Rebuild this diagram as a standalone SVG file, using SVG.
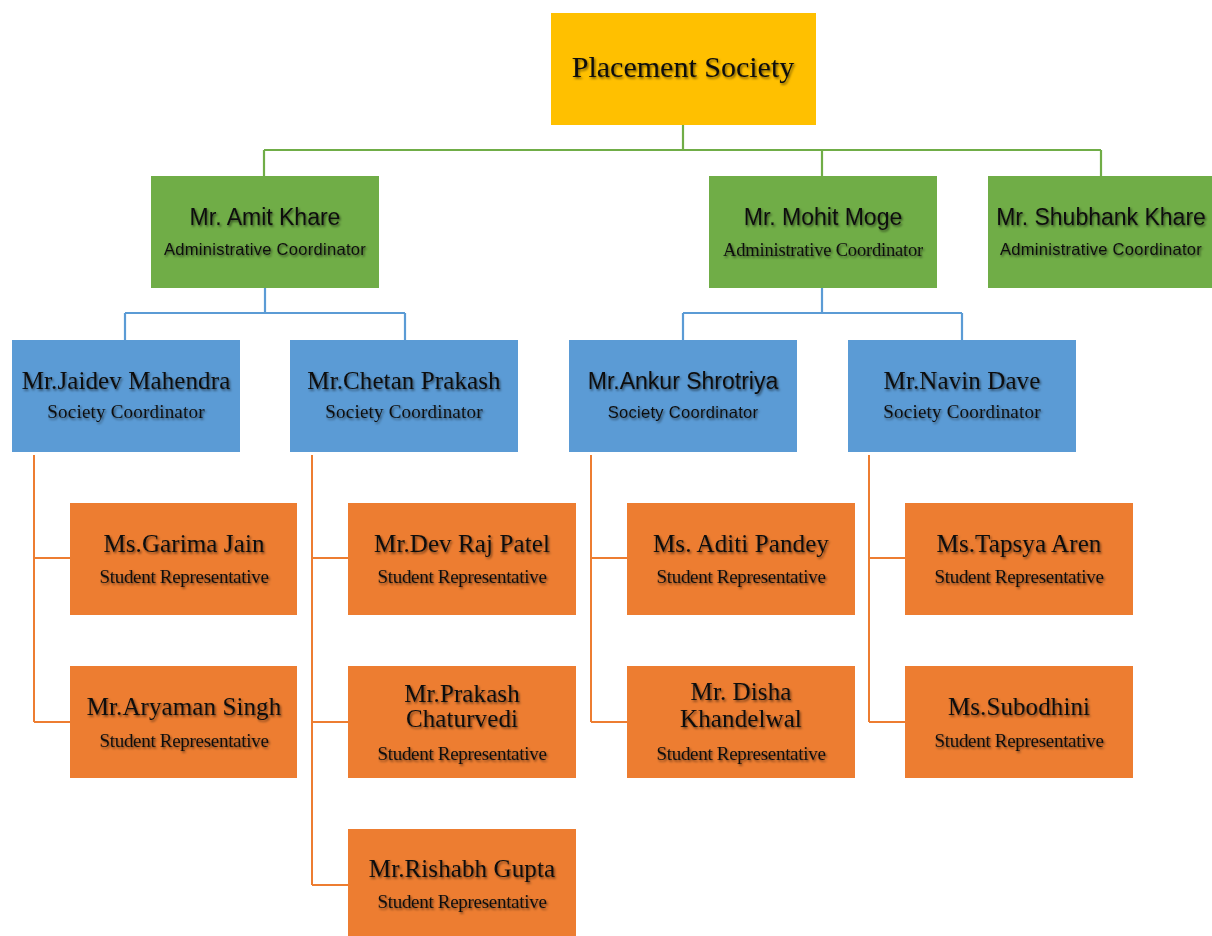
<svg xmlns="http://www.w3.org/2000/svg" width="1212" height="936" viewBox="0 0 1212 936">
<defs>
<filter id="ts" x="-10%" y="-30%" width="120%" height="160%">
<feDropShadow dx="1.3" dy="1.7" stdDeviation="0.9" flood-color="#000" flood-opacity="0.55"/>
</filter>
<style>
.bg{fill:#ffffff}
.top{fill:#FFC000}
.grn{fill:#70AD47}
.blu{fill:#5B9BD5}
.org{fill:#ED7D31}
text{fill:#111111;text-anchor:middle;filter:url(#ts)}
.serif{font-family:"Liberation Serif","Times New Roman",serif}
.sans{font-family:"Liberation Sans",Arial,sans-serif}
.title{font-size:30px}
.nm{font-size:25px;letter-spacing:0.1px}
.nms{font-size:23px}
.sr{font-size:19px;letter-spacing:-0.3px}
.sc{font-size:19px;letter-spacing:0.2px}
.ac{font-size:16.5px;letter-spacing:0.3px}
.acs{font-size:18.5px;letter-spacing:-0.2px}
.lg{stroke:#70AD47;stroke-width:2.2;fill:none}
.lb{stroke:#5B9BD5;stroke-width:2.2;fill:none}
.lo{stroke:#ED7D31;stroke-width:2;fill:none}
</style>
</defs>
<rect class="bg" x="0" y="0" width="1212" height="936"/>

<g id="connectors">
<path class="lg" d="M683 125 V150 M264 150 H1101 M264 150 V176 M822 150 V176 M1101 150 V176"/>
<path class="lb" d="M265 288 V313 M125 313 H405 M125 313 V340 M405 313 V340"/>
<path class="lb" d="M822 288 V313 M683 313 H962 M683 313 V340 M962 313 V340"/>
<path class="lo" d="M34 455 V722 M34 558 H70 M34 722 H70"/>
<path class="lo" d="M312 455 V885 M312 558 H348 M312 722 H348 M312 885 H348"/>
<path class="lo" d="M591 455 V722 M591 558 H627 M591 722 H627"/>
<path class="lo" d="M869 455 V722 M869 558 H905 M869 722 H905"/>
</g>

<g id="placement-society">
<rect class="top" x="551" y="13" width="265" height="112"/>
<text class="serif title" x="683" y="77">Placement Society</text>
</g>

<g id="amit-khare">
<rect class="grn" x="151" y="176" width="228" height="112"/>
<text class="sans nms" x="265" y="225">Mr. Amit Khare</text>
<text class="sans ac" x="265" y="255">Administrative Coordinator</text>
</g>
<g id="mohit-moge">
<rect class="grn" x="709" y="176" width="228" height="112"/>
<text class="sans nms" x="823" y="225">Mr. Mohit Moge</text>
<text class="serif acs" x="823" y="256">Administrative Coordinator</text>
</g>
<g id="shubhank-khare">
<rect class="grn" x="988" y="176" width="228" height="112"/>
<text class="sans nms" x="1101" y="225">Mr. Shubhank Khare</text>
<text class="sans ac" x="1101" y="255">Administrative Coordinator</text>
</g>

<g id="jaidev-mahendra">
<rect class="blu" x="12" y="340" width="228" height="112"/>
<text class="serif nm" x="126" y="389">Mr.Jaidev Mahendra</text>
<text class="serif sc" x="126" y="418">Society Coordinator</text>
</g>
<g id="chetan-prakash">
<rect class="blu" x="290" y="340" width="228" height="112"/>
<text class="serif nm" x="404" y="389">Mr.Chetan Prakash</text>
<text class="serif sc" x="404" y="418">Society Coordinator</text>
</g>
<g id="ankur-shrotriya">
<rect class="blu" x="569" y="340" width="228" height="112"/>
<text class="sans nms" x="683" y="389">Mr.Ankur Shrotriya</text>
<text class="sans ac" x="683" y="418">Society Coordinator</text>
</g>
<g id="navin-dave">
<rect class="blu" x="848" y="340" width="228" height="112"/>
<text class="serif nm" x="962" y="389">Mr.Navin Dave</text>
<text class="serif sc" x="962" y="418">Society Coordinator</text>
</g>

<g id="garima-jain">
<rect class="org" x="70" y="503" width="227" height="112"/>
<text class="serif nm" x="184" y="552">Ms.Garima Jain</text>
<text class="serif sr" x="184" y="583">Student Representative</text>
</g>
<g id="aryaman-singh">
<rect class="org" x="70" y="666" width="227" height="112"/>
<text class="serif nm" x="184" y="715">Mr.Aryaman Singh</text>
<text class="serif sr" x="184" y="747">Student Representative</text>
</g>
<g id="dev-raj-patel">
<rect class="org" x="348" y="503" width="228" height="112"/>
<text class="serif nm" x="462" y="552">Mr.Dev Raj Patel</text>
<text class="serif sr" x="462" y="583">Student Representative</text>
</g>
<g id="prakash-chaturvedi">
<rect class="org" x="348" y="666" width="228" height="112"/>
<text class="serif nm" x="462" y="702">Mr.Prakash</text>
<text class="serif nm" x="462" y="727">Chaturvedi</text>
<text class="serif sr" x="462" y="760">Student Representative</text>
</g>
<g id="rishabh-gupta">
<rect class="org" x="348" y="829" width="228" height="112"/>
<text class="serif nm" x="462" y="877">Mr.Rishabh Gupta</text>
<text class="serif sr" x="462" y="908">Student Representative</text>
</g>
<g id="aditi-pandey">
<rect class="org" x="627" y="503" width="228" height="112"/>
<text class="serif nm" x="741" y="552">Ms. Aditi Pandey</text>
<text class="serif sr" x="741" y="583">Student Representative</text>
</g>
<g id="disha-khandelwal">
<rect class="org" x="627" y="666" width="228" height="112"/>
<text class="serif nm" x="741" y="700">Mr. Disha</text>
<text class="serif nm" x="741" y="727">Khandelwal</text>
<text class="serif sr" x="741" y="760">Student Representative</text>
</g>
<g id="tapsya-aren">
<rect class="org" x="905" y="503" width="228" height="112"/>
<text class="serif nm" x="1019" y="552">Ms.Tapsya Aren</text>
<text class="serif sr" x="1019" y="583">Student Representative</text>
</g>
<g id="subodhini">
<rect class="org" x="905" y="666" width="228" height="112"/>
<text class="serif nm" x="1019" y="715">Ms.Subodhini</text>
<text class="serif sr" x="1019" y="747">Student Representative</text>
</g>
</svg>
